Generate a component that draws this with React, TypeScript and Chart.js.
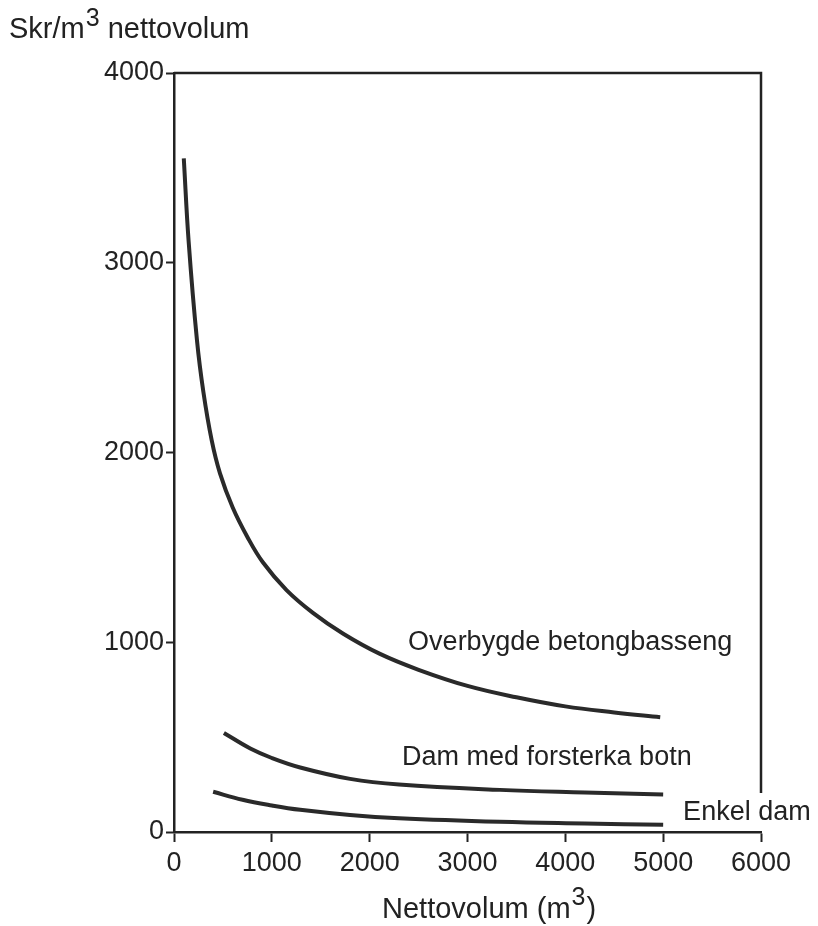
import React, { useEffect, useRef } from "react";
import { Chart, registerables } from "chart.js";

Chart.register(...registerables);

// ---- data ----
const xTickValues = [0, 1000, 2000, 3000, 4000, 5000, 6000];
const yTickValues = [0, 1000, 2000, 3000, 4000];

const overbygdeX = [100, 150, 235, 300, 385, 470, 600, 750, 910, 1150, 1420, 1730, 2100, 2500, 3000, 3500, 4000, 4500, 4970];
const overbygdeY = [3550, 3110, 2590, 2320, 2065, 1890, 1710, 1555, 1420, 1275, 1155, 1045, 940, 855, 770, 710, 662, 630, 605];

const damX = [510, 780, 1000, 1290, 1800, 2300, 3330, 4200, 5000];
const damY = [522, 440, 390, 340, 280, 250, 222, 208, 197];

const enkelX = [400, 700, 1000, 1290, 1800, 2300, 3330, 4200, 5000];
const enkelY = [212, 170, 140, 117, 90, 73, 54, 45, 38];

const seriesNames = ["Overbygde betongbasseng", "Dam med forsterka botn", "Enkel dam"];
// label anchors in data units (left, baseline)
const labelAnchorX = [2393, 2331, 5204];
const labelAnchorY = [959, 353, 63];

const INK = "#222";
const FONT = "'Liberation Sans', Arial, Helvetica, sans-serif";

const toPts = (xs: number[], ys: number[]) => xs.map((x, i) => ({ x, y: ys[i] }));

const decorPlugin = {
  id: "decor",
  afterDraw(chart: any) {
    const { ctx, chartArea, scales } = chart;
    const xs = scales.x;
    const ys = scales.y;
    ctx.save();
    // top and right frame
    ctx.strokeStyle = INK;
    ctx.lineWidth = 2.5;
    ctx.beginPath();
    ctx.moveTo(chartArea.left, chartArea.top);
    ctx.lineTo(chartArea.right, chartArea.top);
    ctx.lineTo(chartArea.right, ys.getPixelForValue(205));
    ctx.stroke();

    ctx.fillStyle = INK;
    ctx.textBaseline = "alphabetic";
    ctx.textAlign = "left";

    // curve labels
    ctx.font = `27px ${FONT}`;
    seriesNames.forEach((name, i) => {
      ctx.fillText(name, xs.getPixelForValue(labelAnchorX[i]), ys.getPixelForValue(labelAnchorY[i]));
    });

    // y title: Skr/m³ nettovolum
    let x = 9;
    const base = 38;
    ctx.font = `29px ${FONT}`;
    ctx.fillText("Skr/m", x, base);
    x += ctx.measureText("Skr/m").width;
    ctx.font = `25px ${FONT}`;
    ctx.fillText("3", x + 1, base - 12);
    x += ctx.measureText("3").width + 1;
    ctx.font = `29px ${FONT}`;
    ctx.fillText(" nettovolum", x, base);

    // x title: Nettovolum (m³)
    x = 382;
    const xb = 918;
    ctx.font = `29px ${FONT}`;
    ctx.fillText("Nettovolum (m", x, xb);
    x += ctx.measureText("Nettovolum (m").width;
    ctx.font = `25px ${FONT}`;
    ctx.fillText("3", x + 1, xb - 13);
    x += ctx.measureText("3").width + 2;
    ctx.font = `29px ${FONT}`;
    ctx.fillText(")", x, xb);
    ctx.restore();
  },
};

export default function App() {
  const ref = useRef<HTMLCanvasElement | null>(null);
  useEffect(() => {
    if (!ref.current) return;
    const lineStyle = {
      borderColor: "#2a2a2a",
      borderWidth: 4,
      pointRadius: 0,
      fill: false,
      cubicInterpolationMode: "default" as const,
      tension: 0.4,
    };
    const chart = new Chart(ref.current, {
      type: "line",
      data: {
        datasets: [
          { label: seriesNames[0], data: toPts(overbygdeX, overbygdeY), ...lineStyle },
          { label: seriesNames[1], data: toPts(damX, damY), ...lineStyle },
          { label: seriesNames[2], data: toPts(enkelX, enkelY), ...lineStyle },
        ],
      },
      options: {
        animation: false,
        responsive: true,
        maintainAspectRatio: false,
        layout: { padding: { left: 0, top: 73, right: 57, bottom: 0 } },
        plugins: { legend: { display: false }, tooltip: { enabled: false }, title: { display: false } },
        scales: {
          x: {
            type: "linear",
            min: 0,
            max: 6000,
            afterFit: (s: any) => {
              s.height = 94;
            },
            afterBuildTicks: (s: any) => {
              s.ticks = xTickValues.map((v) => ({ value: v }));
            },
            ticks: {
              color: INK,
              font: { family: FONT, size: 27 },
              padding: 5,
              maxRotation: 0,
              callback: (v: any) => String(v),
            },
            grid: { drawOnChartArea: false, drawTicks: true, tickLength: 10, tickColor: INK, tickWidth: 2 },
            border: { display: true, color: INK, width: 2.5 },
          },
          y: {
            type: "linear",
            min: 0,
            max: 4000,
            afterFit: (s: any) => {
              s.width = 174;
            },
            afterBuildTicks: (s: any) => {
              s.ticks = yTickValues.map((v) => ({ value: v }));
            },
            ticks: {
              color: INK,
              font: { family: FONT, size: 27 },
              padding: 2,
              callback: (v: any) => String(v),
            },
            grid: { drawOnChartArea: false, drawTicks: true, tickLength: 8, tickColor: INK, tickWidth: 2 },
            border: { display: true, color: INK, width: 2.5 },
          },
        },
      },
      plugins: [decorPlugin],
    });
    return () => chart.destroy();
  }, []);
  return (
    <div style={{ position: "fixed", left: 0, top: 0, width: 818, height: 926, background: "#fff" }}>
      <canvas ref={ref} />
    </div>
  );
}
